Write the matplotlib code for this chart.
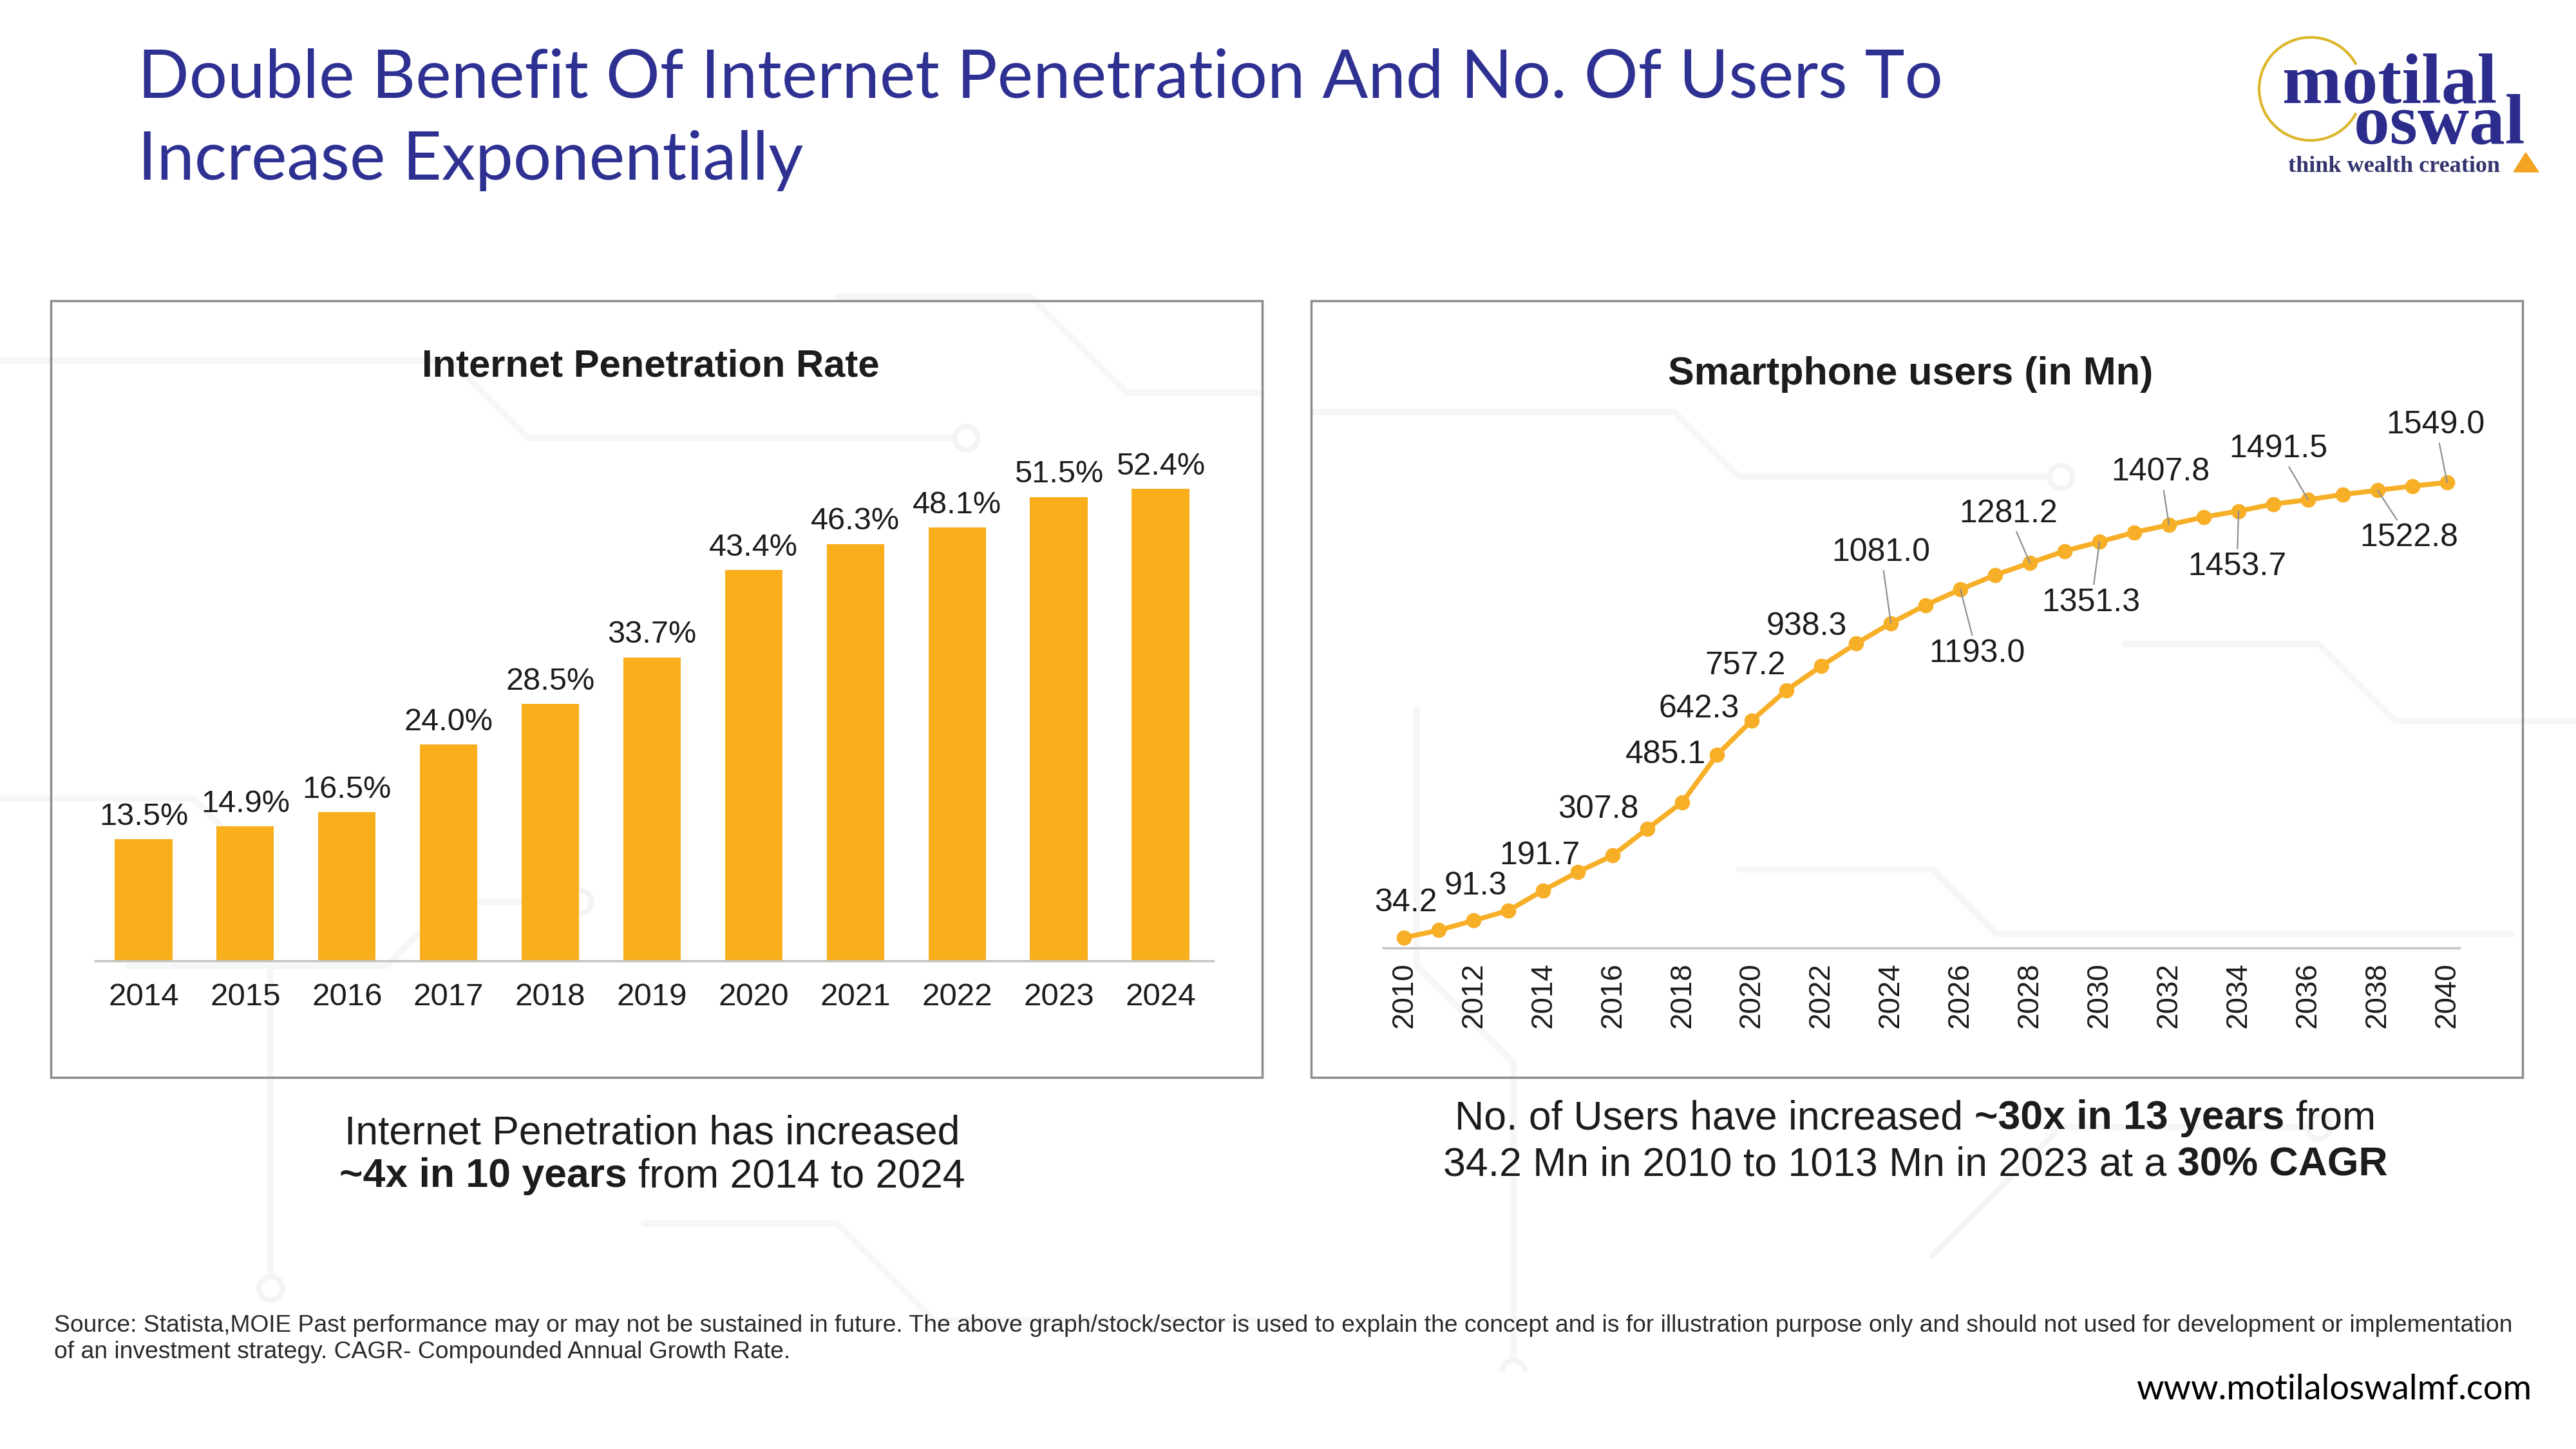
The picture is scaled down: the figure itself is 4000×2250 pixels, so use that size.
import numpy as np
import matplotlib.pyplot as plt
from matplotlib.patches import Rectangle, Arc, Polygon

# ---- data ----
bar_years = ['2014', '2015', '2016', '2017', '2018', '2019', '2020', '2021', '2022', '2023', '2024']
penetration = [13.5, 14.9, 16.5, 24.0, 28.5, 33.7, 43.4, 46.3, 48.1, 51.5, 52.4]

user_years = list(range(2010, 2041))
users = [34.2, 59.0, 91.3, 124.5, 191.7, 253.0, 307.8, 397.0, 485.1, 642.3,
         757.2, 858.0, 938.3, 1013.0, 1081.0, 1141.0, 1193.0, 1241.0, 1281.2, 1321.0,
         1351.3, 1383.0, 1407.8, 1434.0, 1453.7, 1477.0, 1491.5, 1509.0, 1522.8, 1537.0,
         1549.0]
labelled_years = [2010, 2012, 2014, 2016, 2018, 2019, 2020, 2022, 2024, 2026,
                  2028, 2030, 2032, 2034, 2036, 2038, 2040]
leader_years = [2024, 2026, 2028, 2030, 2032, 2034, 2036, 2038, 2040]

title_lines = ['Double Benefit Of Internet Penetration And No. Of Users To',
               'Increase Exponentially']
source_lines = ['Source: Statista,MOIE Past performance may or may not be sustained in future. The above graph/stock/sector is used to explain the concept and is for illustration purpose only and should not used for development or implementation',
                'of an investment strategy. CAGR- Compounded Annual Growth Rate.']

BLUE = '#2E3192'
GOLD = '#F9AE1C'
LINE = '#F7AF28'
TXT = '#1c1c1c'
SANS = 'Liberation Sans'

fig = plt.figure(figsize=(40, 22.5), dpi=100)
fig.patch.set_facecolor('white')

# faint circuit-board style background traces
bg = fig.add_axes([0, 0, 1, 1], zorder=-5)
bg.set_xlim(0, 4000)
bg.set_ylim(2250, 0)
bg.axis('off')
traces = [
    [(0, 560), (700, 560), (820, 680), (1500, 680)],
    [(0, 1240), (300, 1240), (420, 1360), (420, 2000)],
    [(1300, 460), (1600, 460), (1750, 610), (1960, 610)],
    [(2040, 640), (2600, 640), (2700, 740), (3200, 740)],
    [(3300, 1000), (3600, 1000), (3720, 1120), (4000, 1120)],
    [(2200, 1100), (2200, 1500), (2350, 1650), (2350, 2130)],
    [(2700, 1350), (3000, 1350), (3100, 1450), (3900, 1450)],
    [(1000, 1900), (1300, 1900), (1450, 2050), (2000, 2050)],
    [(3000, 1950), (3200, 1750), (3600, 1750)],
    [(200, 1500), (600, 1500), (700, 1400), (900, 1400)],
]
for tr in traces:
    xs, ys = zip(*tr)
    bg.plot(xs, ys, color='#f6f6f6', lw=7, solid_capstyle='round')
for cx, cy in [(1500, 680), (420, 2000), (3200, 740), (2350, 2130), (900, 1400), (3600, 1750)]:
    bg.plot(cx, cy, 'o', ms=26, mfc='white', mec='#f4f4f4', mew=6)
bg.add_patch(Rectangle((0, 0), 4000, 430, color='white', zorder=3))
bg.add_patch(Rectangle((0, 2130), 4000, 120, color='white', zorder=3))

# ---- title ----
fig.text(0.0535, 0.9457, title_lines[0], fontsize=75.5, color=BLUE, family='Lato', va='center')
fig.text(0.0535, 0.889, title_lines[1], fontsize=75.5, color=BLUE, family='Lato', va='center')

# ---- panel frames ----
for x0 in (0.0198, 0.509):
    fig.add_artist(Rectangle((x0, 0.2564), 0.4702, 0.536, transform=fig.transFigure,
                             fill=False, ec='#8c8c8c', lw=2.5))

# ---- bar chart ----
ax1 = fig.add_axes([0.037, 0.337, 0.434, 0.3796])
ax1.patch.set_alpha(0)
pos = np.arange(len(bar_years))
bars = ax1.bar(pos, penetration, width=0.565, color=GOLD)
ax1.bar_label(bars, labels=[f'{v:.1f}%' for v in penetration], padding=9,
              fontsize=35, color=TXT, family=SANS)
ax1.set_xlim(-0.475, 10.52)
ax1.set_ylim(0, 61.1)
ax1.set_xticks(pos)
ax1.set_xticklabels(bar_years, fontsize=35.5, color=TXT, family=SANS)
ax1.set_yticks([])
ax1.tick_params(axis='x', length=0, pad=25)
for s in ('top', 'right', 'left'):
    ax1.spines[s].set_visible(False)
ax1.spines['bottom'].set_color('#c4c4c4')
ax1.spines['bottom'].set_linewidth(2.5)
fig.text(0.2526, 0.747, 'Internet Penetration Rate', fontsize=43, fontweight='bold',
         color=TXT, family=SANS, ha='center', va='center')

# ---- line chart ----
ax2 = fig.add_axes([0.537, 0.3458, 0.4177, 0.3708])
ax2.patch.set_alpha(0)
ax2.plot(user_years, users, color=LINE, lw=5.5, marker='o', ms=16, zorder=3)
ax2.set_xlim(2009.4, 2040.35)
ax2.set_ylim(0, 1788)
ax2.set_xticks(user_years[::2])
ax2.set_xticklabels([str(y) for y in user_years[::2]], rotation=90, fontsize=33,
                    color=TXT, family=SANS)
ax2.set_yticks([])
ax2.tick_params(axis='x', length=0, pad=16)
for s in ('top', 'right', 'left'):
    ax2.spines[s].set_visible(False)
ax2.spines['bottom'].set_color('#c4c4c4')
ax2.spines['bottom'].set_linewidth(2.5)
fig.text(0.7417, 0.7415, 'Smartphone users (in Mn)', fontsize=44, fontweight='bold',
         color=TXT, family=SANS, ha='center', va='center')

# label offsets in points (dx, dy)
offsets = {2010: (1, 21), 2012: (1, 21), 2014: (-2, 21), 2016: (-9, 28), 2018: (-10, 29),
           2019: (-11, 28), 2020: (-4, 33), 2022: (-9, 24), 2024: (-6, 43), 2026: (10, -39),
           2028: (-13, 30), 2030: (-5, -37), 2032: (-5, 32), 2034: (-1, -34), 2036: (-18, 31),
           2038: (19, -29), 2040: (-7, 35)}
k = 1.837
for yr in labelled_years:
    v = users[user_years.index(yr)]
    dx, dy = offsets[yr]
    arrow = None
    if yr in leader_years:
        arrow = dict(arrowstyle='-', color='#8f8f8f', lw=1.6, shrinkA=2, shrinkB=0)
    ax2.annotate(f'{v:.1f}', (yr, v), xytext=(dx * k, dy * k), textcoords='offset points',
                 ha='center', va='center', fontsize=36, color=TXT, family=SANS,
                 arrowprops=arrow, zorder=4)

# ---- captions with mixed weight ----
renderer = fig.canvas.get_renderer()


def text_w(s, size, weight):
    t = fig.text(0, 0, s, fontsize=size, fontweight=weight, family=SANS)
    w = t.get_window_extent(renderer).width / fig.bbox.width
    t.remove()
    return w


def rich_line(parts, xc, y, size):
    space = text_w('x x', size, 'normal') - text_w('xx', size, 'normal')
    widths = [text_w(s, size, w) for s, w in parts]
    total = sum(widths) + space * (len(parts) - 1)
    x = xc - total / 2
    for (s, w), wd in zip(parts, widths):
        fig.text(x, y, s, fontsize=size, fontweight=w, family=SANS, color=TXT, va='center')
        x += wd + space


cap = 45
rich_line([('Internet Penetration has increased', 'normal')], 0.2532, 0.2177, cap)
rich_line([('~4x in 10 years', 'bold'), ('from 2014 to 2024', 'normal')], 0.2532, 0.188, cap)
rich_line([('No. of Users have increased', 'normal'), ('~30x in 13 years', 'bold'),
           ('from', 'normal')], 0.7436, 0.228, cap)
rich_line([('34.2 Mn in 2010 to 1013 Mn in 2023 at a', 'normal'), ('30% CAGR', 'bold')],
          0.7436, 0.196, cap)

# ---- footer ----
fig.text(0.021, 0.0851, source_lines[0], fontsize=26.8, color='#2a2a2a', family=SANS, va='center')
fig.text(0.021, 0.067, source_lines[1], fontsize=26.8, color='#2a2a2a', family=SANS, va='center')
fig.text(0.9828, 0.041, 'www.motilaloswalmf.com', fontsize=39, color='black', family='Lato',
         ha='right', va='center')

# ---- logo ----
lg = fig.add_axes([3480 / 4000, 1 - 300 / 2250, 480 / 4000, 260 / 2250])
lg.set_xlim(0, 480)
lg.set_ylim(0, 260)
lg.axis('off')
lg.add_patch(Arc((108, 162), 160, 160, theta1=28, theta2=332, color='#DDB52A', lw=3))
lg.text(64, 77, 'motilal\n    oswal', fontsize=80, fontweight='bold', family='Liberation Serif',
        color='#2B2C8C', va='baseline', linespacing=0.53)
lg.text(73, 33, 'think wealth creation', fontsize=26, fontweight='bold',
        family='Liberation Serif', color='#34356e', va='baseline')
lg.add_patch(Polygon([(423, 33), (462, 33), (442, 63)], closed=True, color='#F2A422'))

fig.savefig('out.png', dpi=100, facecolor='white')
